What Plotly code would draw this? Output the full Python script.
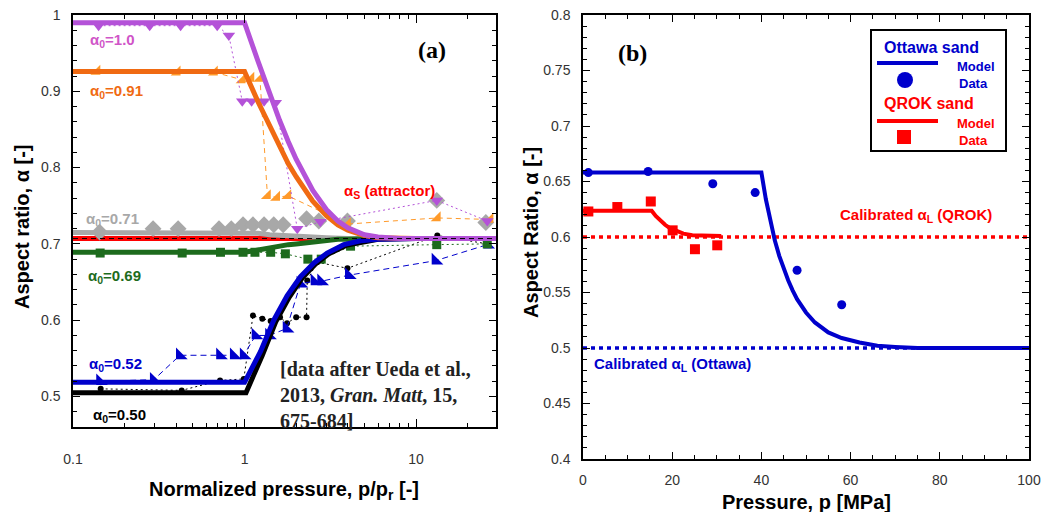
import plotly.graph_objects as go

W, H = 1042, 512
OX, OY = 0, 0

# ---------------- Panel (a) data ----------------
p_model = [0.1, 1.0, 1.2, 1.4, 1.6, 1.8, 2.0, 2.5, 3.0, 3.5, 4.0, 5.0, 6.0, 8.0, 10.0, 30.0]
a_model_100 = [0.99, 0.99, 0.939, 0.897, 0.862, 0.834, 0.811, 0.770, 0.745, 0.730, 0.721, 0.712, 0.709, 0.707, 0.707, 0.707]
a_model_091 = [0.926, 0.926, 0.886, 0.854, 0.827, 0.805, 0.788, 0.756, 0.737, 0.725, 0.718, 0.711, 0.708, 0.707, 0.707, 0.707]
a_model_071 = [0.715, 0.715, 0.714, 0.712, 0.711, 0.710, 0.710, 0.709, 0.708, 0.707, 0.707, 0.707, 0.707, 0.707, 0.707, 0.707]
a_model_069 = [0.689, 0.689, 0.692, 0.695, 0.697, 0.699, 0.700, 0.703, 0.705, 0.706, 0.706, 0.707, 0.707, 0.707, 0.707, 0.707]

p_model_052 = [0.1, 1.0, 1.24, 1.48, 1.77, 2.12, 2.54, 3.03, 3.79, 4.75, 6.0, 10.0, 30.0]
a_model_052 = [0.5185, 0.5185, 0.559, 0.600, 0.632, 0.657, 0.675, 0.688, 0.699, 0.704, 0.706, 0.707, 0.707]
p_model_050 = [0.1, 1.02, 1.27, 1.52, 1.82, 2.18, 2.6, 3.1, 3.9, 4.9, 6.0, 10.0, 30.0]
a_model_050 = [0.505, 0.505, 0.554, 0.598, 0.630, 0.656, 0.674, 0.687, 0.698, 0.703, 0.706, 0.707, 0.707]

alpha_s = 0.707
p_range_a = [0.1, 30.0]

p_dat_100 = [0.141, 0.28, 0.424, 0.693, 0.81, 0.97, 1.10, 1.30, 1.52, 2.03, 2.77, 13.2, 26.0]
a_dat_100 = [0.986, 0.986, 0.986, 0.986, 0.973, 0.887, 0.887, 0.887, 0.885, 0.72, 0.729, 0.757, 0.73]
p_dat_091 = [0.138, 0.405, 0.668, 0.97, 1.09, 1.23, 1.36, 1.54, 1.79, 3.98, 13.3, 27.0]
a_dat_091 = [0.926, 0.925, 0.925, 0.915, 0.917, 0.917, 0.763, 0.761, 0.763, 0.726, 0.734, 0.732]
p_dat_071 = [0.143, 0.293, 0.41, 0.71, 0.837, 0.98, 1.12, 1.30, 1.48, 1.68, 2.30, 2.71, 3.98, 13.2, 25.5]
a_dat_071 = [0.7154, 0.72, 0.72, 0.72, 0.72, 0.725, 0.725, 0.725, 0.725, 0.725, 0.733, 0.73, 0.73, 0.757, 0.728]
p_dat_069 = [0.144, 0.433, 0.724, 0.98, 1.15, 1.42, 1.73, 2.34, 2.80, 4.15, 13.2, 26.0]
a_dat_069 = [0.688, 0.688, 0.689, 0.689, 0.689, 0.689, 0.687, 0.680, 0.680, 0.697, 0.699, 0.70]
p_dat_052 = [0.144, 0.296, 0.42, 0.72, 0.866, 0.99, 1.16, 1.39, 1.76, 2.12, 2.56, 2.80, 4.06, 13.0, 26.0]
a_dat_052 = [0.52, 0.522, 0.554, 0.554, 0.554, 0.554, 0.58, 0.58, 0.589, 0.648, 0.651, 0.651, 0.659, 0.678, 0.699]
p_dat_050 = [0.145, 0.43, 0.72, 0.99, 1.12, 1.27, 1.42, 1.61, 1.77, 2.0, 2.30, 2.32, 2.65, 3.98, 13.3, 26.0]
a_dat_050 = [0.51, 0.508, 0.521, 0.523, 0.606, 0.602, 0.599, 0.604, 0.596, 0.604, 0.604, 0.652, 0.676, 0.668, 0.711, 0.70]

# ---------------- Panel (b) data ----------------
p_ott_model = [0, 40, 41, 42, 43, 44, 45, 46, 47, 48, 50, 52, 55, 58, 62, 66, 70, 75, 100]
a_ott_model = [0.658, 0.658, 0.634, 0.614, 0.597, 0.583, 0.571, 0.561, 0.552, 0.544, 0.532, 0.523, 0.514, 0.509, 0.505, 0.502, 0.501, 0.500, 0.500]
p_qrok_model = [0, 15.4, 16.3, 17.3, 18.4, 19.5, 21.0, 22.5, 24.5, 27.0, 31.0]
a_qrok_model = [0.6237, 0.6237, 0.619, 0.615, 0.611, 0.608, 0.605, 0.603, 0.6015, 0.601, 0.601]
p_ott_data = [1.2, 14.6, 29.1, 38.6, 48.0, 58.0]
a_ott_data = [0.658, 0.659, 0.648, 0.640, 0.570, 0.539]
p_qrok_data = [1.2, 7.7, 15.2, 20.1, 25.1, 30.1]
a_qrok_data = [0.623, 0.627, 0.632, 0.606, 0.589, 0.5925]
alpha_L_qrok = 0.6
alpha_L_ottawa = 0.5
p_range_b = [0, 100]

# ---------------- styles ----------------
PURPLE = "#B452D8"
PURPLE_T = "#D055C8"
ORANGE = "#F06A12"
ORANGE_M = "#FF9A2A"
GRAY = "#A8A8A8"
GREEN = "#1D6B1D"
BLUE = "#0000CC"
RED = "#FF0000"
SANS = "Liberation Sans, Arial, sans-serif"
SERIF = "Liberation Serif, Times New Roman, serif"


def px_x(px):
    return (px - OX) / W


def px_y(py):
    return 1 - (py - OY) / H


fig = go.Figure()

A = dict(xaxis="x", yaxis="y")
B = dict(xaxis="x2", yaxis="y2")

fig.add_trace(go.Scatter(x=p_range_a, y=[alpha_s, alpha_s], mode="lines",
                         line=dict(color=RED, width=5), **A))

fig.add_trace(go.Scatter(x=p_dat_050, y=a_dat_050, mode="lines+markers",
                         line=dict(color="black", width=1, dash="2px,3px"),
                         marker=dict(symbol="circle", size=6, color="black"), **A))
fig.add_trace(go.Scatter(x=p_dat_052, y=a_dat_052, mode="lines+markers",
                         line=dict(color=BLUE, width=1, dash="6px,4px"),
                         marker=dict(symbol="triangle-sw", size=13, color=BLUE), **A))
fig.add_trace(go.Scatter(x=p_dat_069, y=a_dat_069, mode="lines+markers",
                         line=dict(color=GREEN, width=1, dash="2px,3px"),
                         marker=dict(symbol="square", size=9, color=GREEN), **A))
fig.add_trace(go.Scatter(x=p_dat_071, y=a_dat_071, mode="markers",
                         marker=dict(symbol="diamond", size=13, color=GRAY), **A))
fig.add_trace(go.Scatter(x=p_dat_091, y=a_dat_091, mode="lines+markers",
                         line=dict(color=ORANGE_M, width=1, dash="5px,4px"),
                         marker=dict(symbol="triangle-se", size=11, color=ORANGE_M), **A))
fig.add_trace(go.Scatter(x=p_dat_100, y=a_dat_100, mode="lines+markers",
                         line=dict(color=PURPLE, width=1, dash="2px,3px"),
                         marker=dict(symbol="triangle-down", size=11, color=PURPLE), **A))

fig.add_trace(go.Scatter(x=p_model, y=a_model_071, mode="lines", line=dict(color=GRAY, width=5), **A))
fig.add_trace(go.Scatter(x=p_model, y=a_model_069, mode="lines", line=dict(color=GREEN, width=5), **A))
fig.add_trace(go.Scatter(x=p_model_050, y=a_model_050, mode="lines", line=dict(color="black", width=5), **A))
fig.add_trace(go.Scatter(x=p_model_052, y=a_model_052, mode="lines", line=dict(color=BLUE, width=5), **A))
fig.add_trace(go.Scatter(x=p_model, y=a_model_091, mode="lines", line=dict(color=ORANGE, width=5), **A))
fig.add_trace(go.Scatter(x=p_model, y=a_model_100, mode="lines", line=dict(color=PURPLE, width=5), **A))
fig.add_trace(go.Scatter(x=p_range_a, y=[alpha_s, alpha_s], mode="lines",
                         line=dict(color="black", width=1, dash="5px,4px"), **A))

fig.add_trace(go.Scatter(x=p_range_b, y=[alpha_L_qrok, alpha_L_qrok], mode="lines",
                         line=dict(color=RED, width=3.5, dash="4px,4px"), **B))
fig.add_trace(go.Scatter(x=p_range_b, y=[alpha_L_ottawa, alpha_L_ottawa], mode="lines",
                         line=dict(color=BLUE, width=3.5, dash="4px,4px"), **B))
fig.add_trace(go.Scatter(x=p_ott_model, y=a_ott_model, mode="lines",
                         line=dict(color=BLUE, width=4), **B))
fig.add_trace(go.Scatter(x=p_qrok_model, y=a_qrok_model, mode="lines",
                         line=dict(color=RED, width=4), **B))
fig.add_trace(go.Scatter(x=p_ott_data, y=a_ott_data, mode="markers",
                         marker=dict(symbol="circle", size=9, color=BLUE), **B))
fig.add_trace(go.Scatter(x=p_qrok_data, y=a_qrok_data, mode="markers",
                         marker=dict(symbol="square", size=10, color=RED), **B))

tickfont = dict(family=SANS, size=14, color="#333333")
common = dict(showline=True, linecolor="black", linewidth=1.5, mirror="ticks",
              ticks="inside", tickcolor="black", tickwidth=1, showgrid=False,
              zeroline=False, tickfont=tickfont, automargin=False,
              ticklabeloverflow="allow")

fig.update_layout(
    width=W, height=H, autosize=False,
    margin=dict(l=0, r=0, t=0, b=0, pad=0, autoexpand=False),
    paper_bgcolor="white", plot_bgcolor="white",
    showlegend=False,
    xaxis=dict(domain=[px_x(73), px_x(496)], anchor="y", type="log",
               range=[-1, 1.466], tickvals=[0.1, 1, 10], ticktext=["0.1", "1", "10"],
               ticklen=8, ticklabelstandoff=18,
               minor=dict(tickmode="array",
                          tickvals=[0.2, 0.3, 0.4, 0.5, 0.6, 0.7, 0.8, 0.9,
                                    2, 3, 4, 5, 6, 7, 8, 9, 20, 30],
                          ticks="inside", ticklen=4, tickcolor="black", showgrid=False),
               **common),
    yaxis=dict(domain=[px_y(427), px_y(15)], anchor="x",
               range=[0.46, 1.0], tickvals=[0.5, 0.6, 0.7, 0.8, 0.9, 1.0],
               ticktext=["0.5", "0.6", "0.7", "0.8", "0.9", "1"],
               ticklen=7, ticklabelstandoff=8,
               minor=dict(dtick=0.02, tick0=0, ticks="inside", ticklen=4,
                          tickcolor="black", showgrid=False),
               **common),
    xaxis2=dict(domain=[px_x(583), px_x(1029)], anchor="y2",
                range=[0, 100], dtick=20, ticklen=7, ticklabelstandoff=7,
                minor=dict(dtick=5, ticks="inside", ticklen=4, tickcolor="black", showgrid=False),
                **common),
    yaxis2=dict(domain=[px_y(459), px_y(15)], anchor="x2",
                range=[0.4, 0.8], dtick=0.05, ticklen=7, ticklabelstandoff=8,
                minor=dict(dtick=0.01, ticks="inside", ticklen=4, tickcolor="black", showgrid=False),
                **common),
)

ann = []


def text(px, py, s, size=15, color="black", family=SANS, xanchor="left",
         yanchor="middle", angle=0, align="left"):
    ann.append(dict(xref="paper", yref="paper", x=px_x(px), y=px_y(py), text=s,
                    showarrow=False, xanchor=xanchor, yanchor=yanchor, textangle=angle,
                    align=align, font=dict(family=family, size=size, color=color)))


B_ = lambda s: "<b>" + s + "</b>"

text(88, 40, B_("α<sub>0</sub>=1.0"), 15, PURPLE_T)
text(88, 91, B_("α<sub>0</sub>=0.91"), 15, ORANGE)
text(84, 219, B_("α<sub>0</sub>=0.71"), 15, GRAY)
text(86, 276, B_("α<sub>0</sub>=0.69"), 15, GREEN)
text(87, 364, B_("α<sub>0</sub>=0.52"), 15, BLUE)
text(91, 415, B_("α<sub>0</sub>=0.50"), 15, "black")
text(432, 50, B_("(a)"), 24, "black", SERIF, xanchor="center")
text(342, 191, B_("α<sub>S</sub> (attractor)"), 15, RED)
text(278, 356, B_("[data after Ueda et al.,<br>2013, <i>Gran. Matt</i>, 15,<br>675-684]"),
     20, "#222222", SERIF, yanchor="top")

ann.append(dict(xref="x", yref="y", x=10 ** 0.898, y=0.713,
                ax=-5, ay=-38, text="", showarrow=True, arrowhead=2, arrowsize=1.2,
                arrowwidth=2, arrowcolor=RED))

text(22, 227, B_("Aspect ratio, α [-]"), 20, "black", xanchor="center", angle=-90)
text(284, 490, B_("Normalized pressure, p/p<sub>r</sub> [-]"), 20, "black", xanchor="center")
text(531, 233, B_("Aspect Ratio, α [-]"), 20, "black", xanchor="center", angle=-90)
text(806, 502, B_("Pressure, p [MPa]"), 20, "black", xanchor="center")

text(632, 53, B_("(b)"), 24, "black", SERIF, xanchor="center")
text(838, 215, B_("Calibrated α<sub>L</sub> (QROK)"), 15, RED)
text(592, 364, B_("Calibrated α<sub>L</sub> (Ottawa)"), 15, BLUE)

text(882, 47, B_("Ottawa sand"), 16, BLUE)
text(997, 66, B_("Model"), 13, BLUE, xanchor="right")
text(990, 83, B_("Data"), 13, BLUE, xanchor="right")
text(882, 103, B_("QROK sand"), 16, RED)
text(997, 123, B_("Model"), 13, RED, xanchor="right")
text(990, 140, B_("Data"), 13, RED, xanchor="right")

shapes = [
    dict(type="rect", xref="paper", yref="paper", x0=px_x(871), x1=px_x(1006),
         y0=px_y(151), y1=px_y(30), line=dict(color="black", width=2), fillcolor="rgba(0,0,0,0)"),
    dict(type="line", xref="paper", yref="paper", x0=px_x(877), x1=px_x(938),
         y0=px_y(63), y1=px_y(63), line=dict(color=BLUE, width=4)),
    dict(type="circle", xref="paper", yref="paper", x0=px_x(897), x1=px_x(913),
         y0=px_y(88), y1=px_y(72), line=dict(color=BLUE, width=0), fillcolor=BLUE),
    dict(type="line", xref="paper", yref="paper", x0=px_x(877), x1=px_x(938),
         y0=px_y(121), y1=px_y(121), line=dict(color=RED, width=4)),
    dict(type="rect", xref="paper", yref="paper", x0=px_x(897), x1=px_x(911),
         y0=px_y(144), y1=px_y(130), line=dict(color=RED, width=0), fillcolor=RED),
]

fig.update_layout(annotations=ann, shapes=shapes)
fig.write_html("out.html",
               config={"displayModeBar": False},
               post_script="document.body.style.margin='0';document.body.style.overflow='hidden';")
